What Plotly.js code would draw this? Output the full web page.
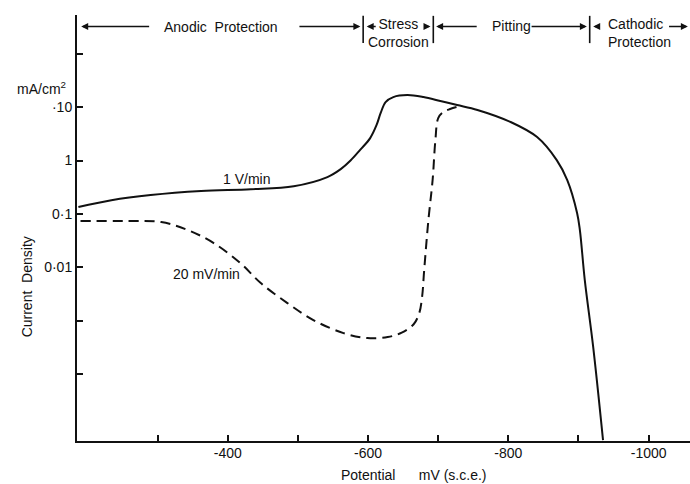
<!DOCTYPE html>
<html>
<head>
<meta charset="utf-8">
<script src="https://cdn.plot.ly/plotly-3.0.1.min.js"></script>
<style>html,body{margin:0;padding:0;background:#fff;}#chart{width:690px;height:484px;}</style>
</head>
<body>
<div id="chart"></div>
<script>
// ---- data ----
const fastPotential = [-187, -234, -290, -362, -433, -494, -542, -561, -575, -589, -603, -612, -618, -625, -636, -656, -679, -703, -727, -756, -803, -841, -869, -884, -898, -902, -909, -921, -935];
const fastCurrent   = [0.134, 0.18, 0.225, 0.268, 0.29, 0.33, 0.49, 0.69, 1.0, 1.6, 2.64, 4.6, 7.8, 12.5, 15.5, 16.9, 15.5, 13.1, 11.0, 8.9, 5.3, 2.76, 1.02, 0.43, 0.104, 0.0497, 0.00573, 0.000317, 0.0000057];

const slowPotential = [-190, -258, -305, -343, -380, -418, -447, -485, -522, -565, -599, -628, -648, -665, -673, -677, -680, -686, -692, -696, -700, -707, -717, -731];
const slowCurrent   = [0.0733, 0.0733, 0.0702, 0.0497, 0.0283, 0.0119, 0.00503, 0.00212, 0.00102, 0.00058, 0.000468, 0.000489, 0.00059, 0.00085, 0.00138, 0.00275, 0.0088, 0.0765, 0.43, 2.43, 6.27, 8.1, 9.25, 10.5];

const seriesNames = ['1 V/min', '20 mV/min'];

const xTickVals = [-300, -400, -500, -600, -700, -800, -900, -1000];
const xTickText = ['', '-400', '', '-600', '', '-800', '', '-1000'];
const yTickVals = [100, 10, 1, 0.1, 0.01, 0.001, 0.0001];
const yTickText = ['', '\u00b710', '1', '0\u00b71', '0\u00b701', '', ''];

const regionBounds = [-187, -593, -693, -916, -1059];
const regionNames = ['Anodic\u00a0 Protection', 'Stress<br>Corrosion', 'Pitting', 'Cathodic<br>Protection'];

// ---- styling / layout ----
const FONT = 'Liberation Sans, Arial, Helvetica, sans-serif';
const black = '#111';

const traces = [
  {x: fastPotential, y: fastCurrent, name: seriesNames[0], mode: 'lines',
   line: {color: black, width: 2, shape: 'spline', smoothing: 1}},
  {x: slowPotential, y: slowCurrent, name: seriesNames[1], mode: 'lines',
   line: {color: black, width: 2, dash: '10px,6px', shape: 'spline', smoothing: 1}}
];

const arrowY = 0.973;
const annotations = [];
function arrow(head, tail) {
  annotations.push({x: head, ax: tail, xref: 'x', axref: 'x', y: arrowY, yref: 'paper', ay: 0,
    text: '', showarrow: true, arrowhead: 2, arrowsize: 1, arrowwidth: 1.4, arrowcolor: black});
}
// arrows between region boundaries and labels
arrow(-191, -290); arrow(-589, -500);
arrow(-598, -613); arrow(-689, -680);
arrow(-697, -757); arrow(-912, -831);
arrow(-921, -931); arrow(-1056, -1027);

// region labels (centred in each region)
const labelY = [0.973, 0.957, 0.974, 0.957];
const labelAlign = ['center', 'center', 'center', 'left'];
for (let i = 0; i < regionNames.length; i++) {
  annotations.push({x: (regionBounds[i] + regionBounds[i + 1]) / 2, y: labelY[i], xref: 'x', yref: 'paper',
    xanchor: 'center', yanchor: 'middle',
    text: regionNames[i], showarrow: false, align: labelAlign[i],
    font: {family: FONT, size: 14, color: black}});
}

// curve labels
annotations.push({x: -427, y: Math.log10(0.45), xref: 'x', yref: 'y', xanchor: 'center', yanchor: 'middle',
  text: '1 V/min', showarrow: false, font: {family: FONT, size: 14, color: black}});
annotations.push({x: -369, y: Math.log10(0.0074), xref: 'x', yref: 'y', xanchor: 'center', yanchor: 'middle',
  text: '20 mV/min', showarrow: false, font: {family: FONT, size: 14, color: black}});

// axis titles and unit label
annotations.push({x: 0.549, y: -0.080, xref: 'paper', yref: 'paper', xanchor: 'center', yanchor: 'middle',
  text: 'Potential\u00a0\u00a0\u00a0\u00a0\u00a0 mV (s.c.e.)', showarrow: false, font: {family: FONT, size: 14, color: black}});
annotations.push({x: -0.081, y: 0.3615, xref: 'paper', yref: 'paper', xanchor: 'center', yanchor: 'middle',
  text: 'Current\u00a0 Density', textangle: -90, showarrow: false, font: {family: FONT, size: 14, color: black}});
annotations.push({x: -0.0147, y: 0.829, xref: 'paper', yref: 'paper', xanchor: 'right', yanchor: 'middle',
  text: 'mA/cm<sup>2</sup>', showarrow: false, font: {family: FONT, size: 14, color: black}});

// boundary bars
const shapes = regionBounds.slice(1, 4).map(b => ({type: 'line', xref: 'x', yref: 'paper', x0: b, x1: b,
  y0: 0.934, y1: 0.998, line: {color: black, width: 1.6}}));

const layout = {
  width: 690, height: 484,
  margin: {l: 77, r: 0, t: 15, b: 43},
  paper_bgcolor: '#fff', plot_bgcolor: '#fff',
  showlegend: false,
  font: {family: FONT, size: 14, color: black},
  xaxis: {range: [-185, -1059], showline: true, linecolor: black, linewidth: 2, mirror: false,
    ticks: 'inside', ticklen: 6, tickwidth: 2, tickcolor: black, ticklabelstandoff: -2,
    tickvals: xTickVals, ticktext: xTickText, showgrid: false, zeroline: false,
    tickfont: {family: FONT, size: 14, color: black}},
  yaxis: {type: 'log', range: [-5.26, 2.73], showline: true, linecolor: black, linewidth: 2,
    ticks: 'inside', ticklen: 6, tickwidth: 2, tickcolor: black,
    tickvals: yTickVals, ticktext: yTickText, showgrid: false, zeroline: false,
    tickfont: {family: FONT, size: 14, color: black}},
  annotations: annotations,
  shapes: shapes
};

Plotly.newPlot('chart', traces, layout, {displayModeBar: false, staticPlot: true});
</script>
</body>
</html>
